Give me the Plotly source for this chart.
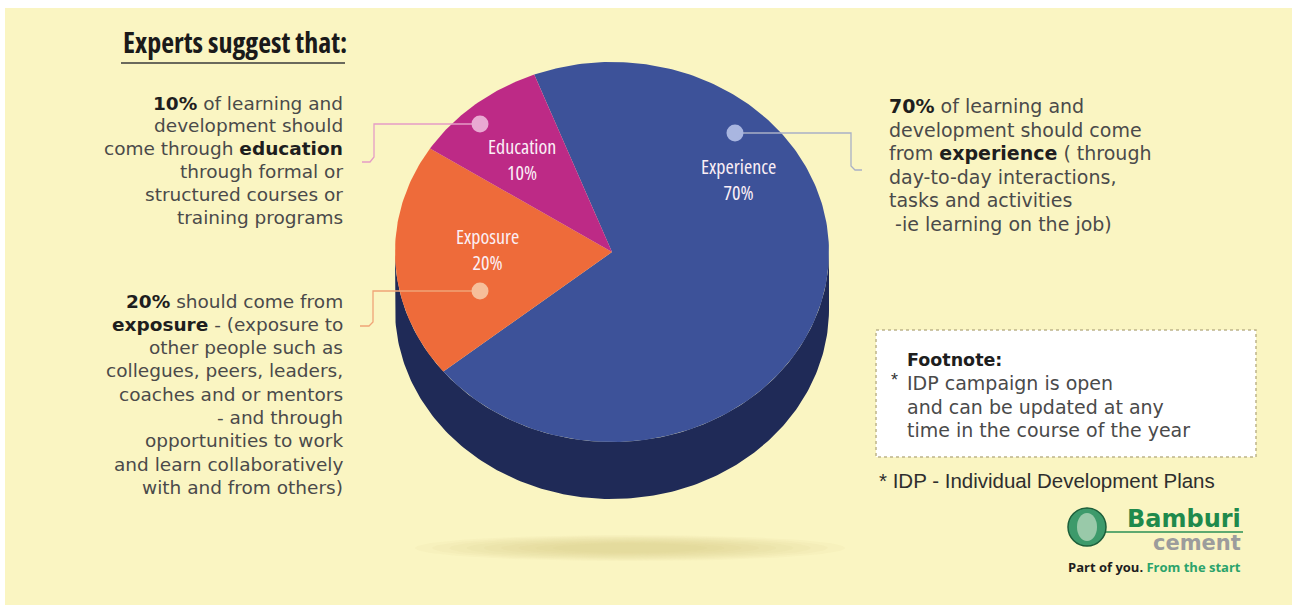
import numpy as np
import plotly.graph_objects as go

# ---------------- data ----------------
categories = ["Experience", "Exposure", "Education"]
shares = [70, 20, 10]

title_text = "Experts suggest that:"
education_lines = ["<b>10%</b> of learning and", "development should",
                   "come through <b>education</b>", "through formal or",
                   "structured courses or", "training programs"]
exposure_lines = ["<b>20%</b> should come from", "<b>exposure</b> - (exposure to",
                  "other people such as", "collegues, peers, leaders,",
                  "coaches and or mentors", "- and through",
                  "opportunities to work", "and learn collaboratively",
                  "with and from others)"]
experience_lines = ["<b>70%</b> of learning and", "development should come",
                    "from <b>experience</b> ( through", "day-to-day interactions,",
                    "tasks and activities", " -ie learning on the job)"]
footnote_lines = ["<b>Footnote:</b>", "IDP campaign is open",
                  "and can be updated at any", "time in the course of the year"]
idp_note = "* IDP - Individual Development Plans"

# ---------------- styles / layout constants ----------------
W, H = 1292, 606
BG = "#FAF5C2"
slice_colors = {"Experience": "#3D5299", "Exposure": "#EE6B3A", "Education": "#BD2A86"}
side_color = "#1F2A57"
dot_colors = {"Experience": "#A9B6E0", "Exposure": "#F6BF9A", "Education": "#E9A9D2"}
leader_colors = {"Experience": "#A9B0C6", "Exposure": "#F0A477", "Education": "#E59CC6"}
CX, CY, RX, RY, DEPTH = 612, 252, 217, 190, 57
START = -21  # degrees clockwise from 12 o'clock
label_pos = {"Experience": (738, 179.5), "Exposure": (487, 249.5), "Education": (522, 159)}
dot_pos = {"Experience": (735, 133), "Exposure": (480, 291), "Education": (480, 124)}
leader_paths = {
    "Education": [(480, 124), (374, 124), (374, 157), (370, 162), (362, 162)],
    "Exposure": [(480, 291), (373, 291), (373, 322), (369, 326), (360, 326)],
    "Experience": [(735, 133), (851, 133), (851, 166), (855, 170), (862, 170)],
}
BODY_FONT = "DejaVu Sans"
COND_FONT = "Open Sans"
TXT = "#4A4A4A"


def ell(t_deg, dy=0.0):
    t = np.radians(t_deg)
    return CX + RX * np.sin(t), CY - RY * np.cos(t) + dy


def cond(s, stretch="75%"):
    return f"<span style='font-stretch:{stretch}'>{s}</span>"


fig = go.Figure()

# floor shadow
for k in range(9):
    s = 1 - k * 0.08
    t = np.linspace(0, 360, 121)
    x = 630 + 215 * s * np.sin(np.radians(t))
    y = 548 + 13 * s * np.cos(np.radians(t))
    fig.add_trace(go.Scatter(x=x, y=y, fill="toself", mode="lines", line=dict(width=0),
                             fillcolor="rgba(205,195,120,0.065)", hoverinfo="skip"))

# cylinder side (lower half)
t_top = np.linspace(90, 270, 181)
xs1, ys1 = ell(t_top)
xs2, ys2 = ell(t_top[::-1], DEPTH)
fig.add_trace(go.Scatter(x=np.r_[xs1, xs2], y=np.r_[ys1, ys2], fill="toself", mode="lines",
                         line=dict(width=0), fillcolor=side_color, hoverinfo="skip"))

# pie top slices, computed from the shares
total = sum(shares)
a0 = START
for cat, v in zip(categories, shares):
    a1 = a0 + 360 * v / total
    t = np.linspace(a0, a1, max(int(abs(a1 - a0)), 2) + 1)
    ex, ey = ell(t)
    fig.add_trace(go.Scatter(x=np.r_[CX, ex, CX], y=np.r_[CY, ey, CY], fill="toself",
                             mode="lines", line=dict(width=0, color=slice_colors[cat]),
                             fillcolor=slice_colors[cat], hoverinfo="skip"))
    lx, ly = label_pos[cat]
    fig.add_annotation(x=lx, y=ly, text=cond(cat) + "<br>" + cond(f"{v}%"), showarrow=False,
                       font=dict(family=COND_FONT, size=20, color="#FBEFF6"),
                       xanchor="center", yanchor="middle")
    a0 = a1

# leader lines and dots
for cat in categories:
    pts = leader_paths[cat]
    fig.add_trace(go.Scatter(x=[p[0] for p in pts], y=[p[1] for p in pts], mode="lines",
                             line=dict(color=leader_colors[cat], width=1.3), hoverinfo="skip"))
    dx, dy = dot_pos[cat]
    fig.add_trace(go.Scatter(x=[dx], y=[dy], mode="markers",
                             marker=dict(size=17, color=dot_colors[cat], line=dict(width=0)),
                             hoverinfo="skip"))


def bold_dark(ln):
    return ln.replace("<b>", "<b><span style='color:#1E1E1E'>").replace("</b>", "</span></b>")


def add_lines(lines, x, y0, step, anchor, size, color=TXT, family=BODY_FONT):
    for i, ln in enumerate(lines):
        fig.add_annotation(x=x, y=y0 + i * step, text=bold_dark(ln), showarrow=False,
                           xanchor=anchor, yanchor="middle",
                           font=dict(family=family, size=size, color=color))


add_lines(education_lines, 345, 103, 22.8, "right", 18.5)
add_lines(exposure_lines, 345, 301, 23.3, "right", 18.5)
add_lines(experience_lines, 887, 106, 23.6, "left", 19)

# title
fig.add_annotation(x=121, y=42, text="<b>" + cond(title_text) + "</b>", showarrow=False,
                   xanchor="left", yanchor="middle",
                   font=dict(family=COND_FONT, size=28, color="#1A1A1A"))

# footnote box
fig.add_annotation(x=905, y=360, text=bold_dark(footnote_lines[0]),
                   showarrow=False, xanchor="left", yanchor="middle",
                   font=dict(family=BODY_FONT, size=17.5, color=TXT))
fig.add_annotation(x=889, y=380, text="*", showarrow=False, xanchor="left", yanchor="middle",
                   font=dict(family="Liberation Sans", size=18, color="#333333"))
for i, ln in enumerate(footnote_lines[1:]):
    fig.add_annotation(x=905, y=383 + i * 23.5, text=ln, showarrow=False, xanchor="left",
                       yanchor="middle", font=dict(family=BODY_FONT, size=19, color=TXT))
fig.add_annotation(x=877, y=480, text=idp_note, showarrow=False, xanchor="left",
                   yanchor="middle", font=dict(family="Liberation Sans", size=20.5, color="#2E2E2E"))

# logo
fig.add_annotation(x=1243, y=519, text="<b>Bamburi</b>", showarrow=False, xanchor="right",
                   yanchor="middle", font=dict(family="DejaVu Sans", size=24, color="#1F8A4C"))
fig.add_annotation(x=1243, y=543, text="<b>cement</b>", showarrow=False, xanchor="right",
                   yanchor="middle", font=dict(family="DejaVu Sans", size=21, color="#9C9C9C"))
fig.add_annotation(x=1243, y=567,
                   text="<b>Part of you. <span style='color:#2BA36B'>From the start</span></b>",
                   showarrow=False, xanchor="right", yanchor="middle",
                   font=dict(family="Open Sans", size=13, color="#1E1E1E"))

shapes = [
    dict(type="rect", xref="x", yref="y", x0=5, y0=8, x1=W, y1=605, fillcolor=BG,
         line=dict(width=0), layer="below"),
    dict(type="line", xref="x", yref="y", x0=121, y0=63, x1=345, y1=63,
         line=dict(color="#3A3A3A", width=1.5), layer="below"),
    dict(type="rect", xref="x", yref="y", x0=876, y0=330, x1=1256, y1=457, fillcolor="#FFFFFF",
         line=dict(color="#BDB48A", width=1.5, dash="dot"), layer="below"),
    dict(type="line", xref="x", yref="y", x0=1100, y0=532, x1=1243, y1=532,
         line=dict(color="#2A8F55", width=1.5)),
    dict(type="circle", xref="x", yref="y", x0=1068, y0=508, x1=1106, y1=546,
         fillcolor="#3D9A6B", line=dict(color="#1C5E3A", width=1.5)),
    dict(type="circle", xref="x", yref="y", x0=1077, y0=513, x1=1097, y1=541,
         fillcolor="rgba(230,240,220,0.55)", line=dict(width=0)),
]

fig.update_layout(
    width=W, height=H, margin=dict(l=0, r=0, t=0, b=0),
    paper_bgcolor="#FFFFFF", plot_bgcolor="rgba(0,0,0,0)", showlegend=False,
    shapes=shapes,
    xaxis=dict(range=[0, W], visible=False, fixedrange=True),
    yaxis=dict(range=[H, 0], visible=False, fixedrange=True),
)
fig.write_html("out.html")
